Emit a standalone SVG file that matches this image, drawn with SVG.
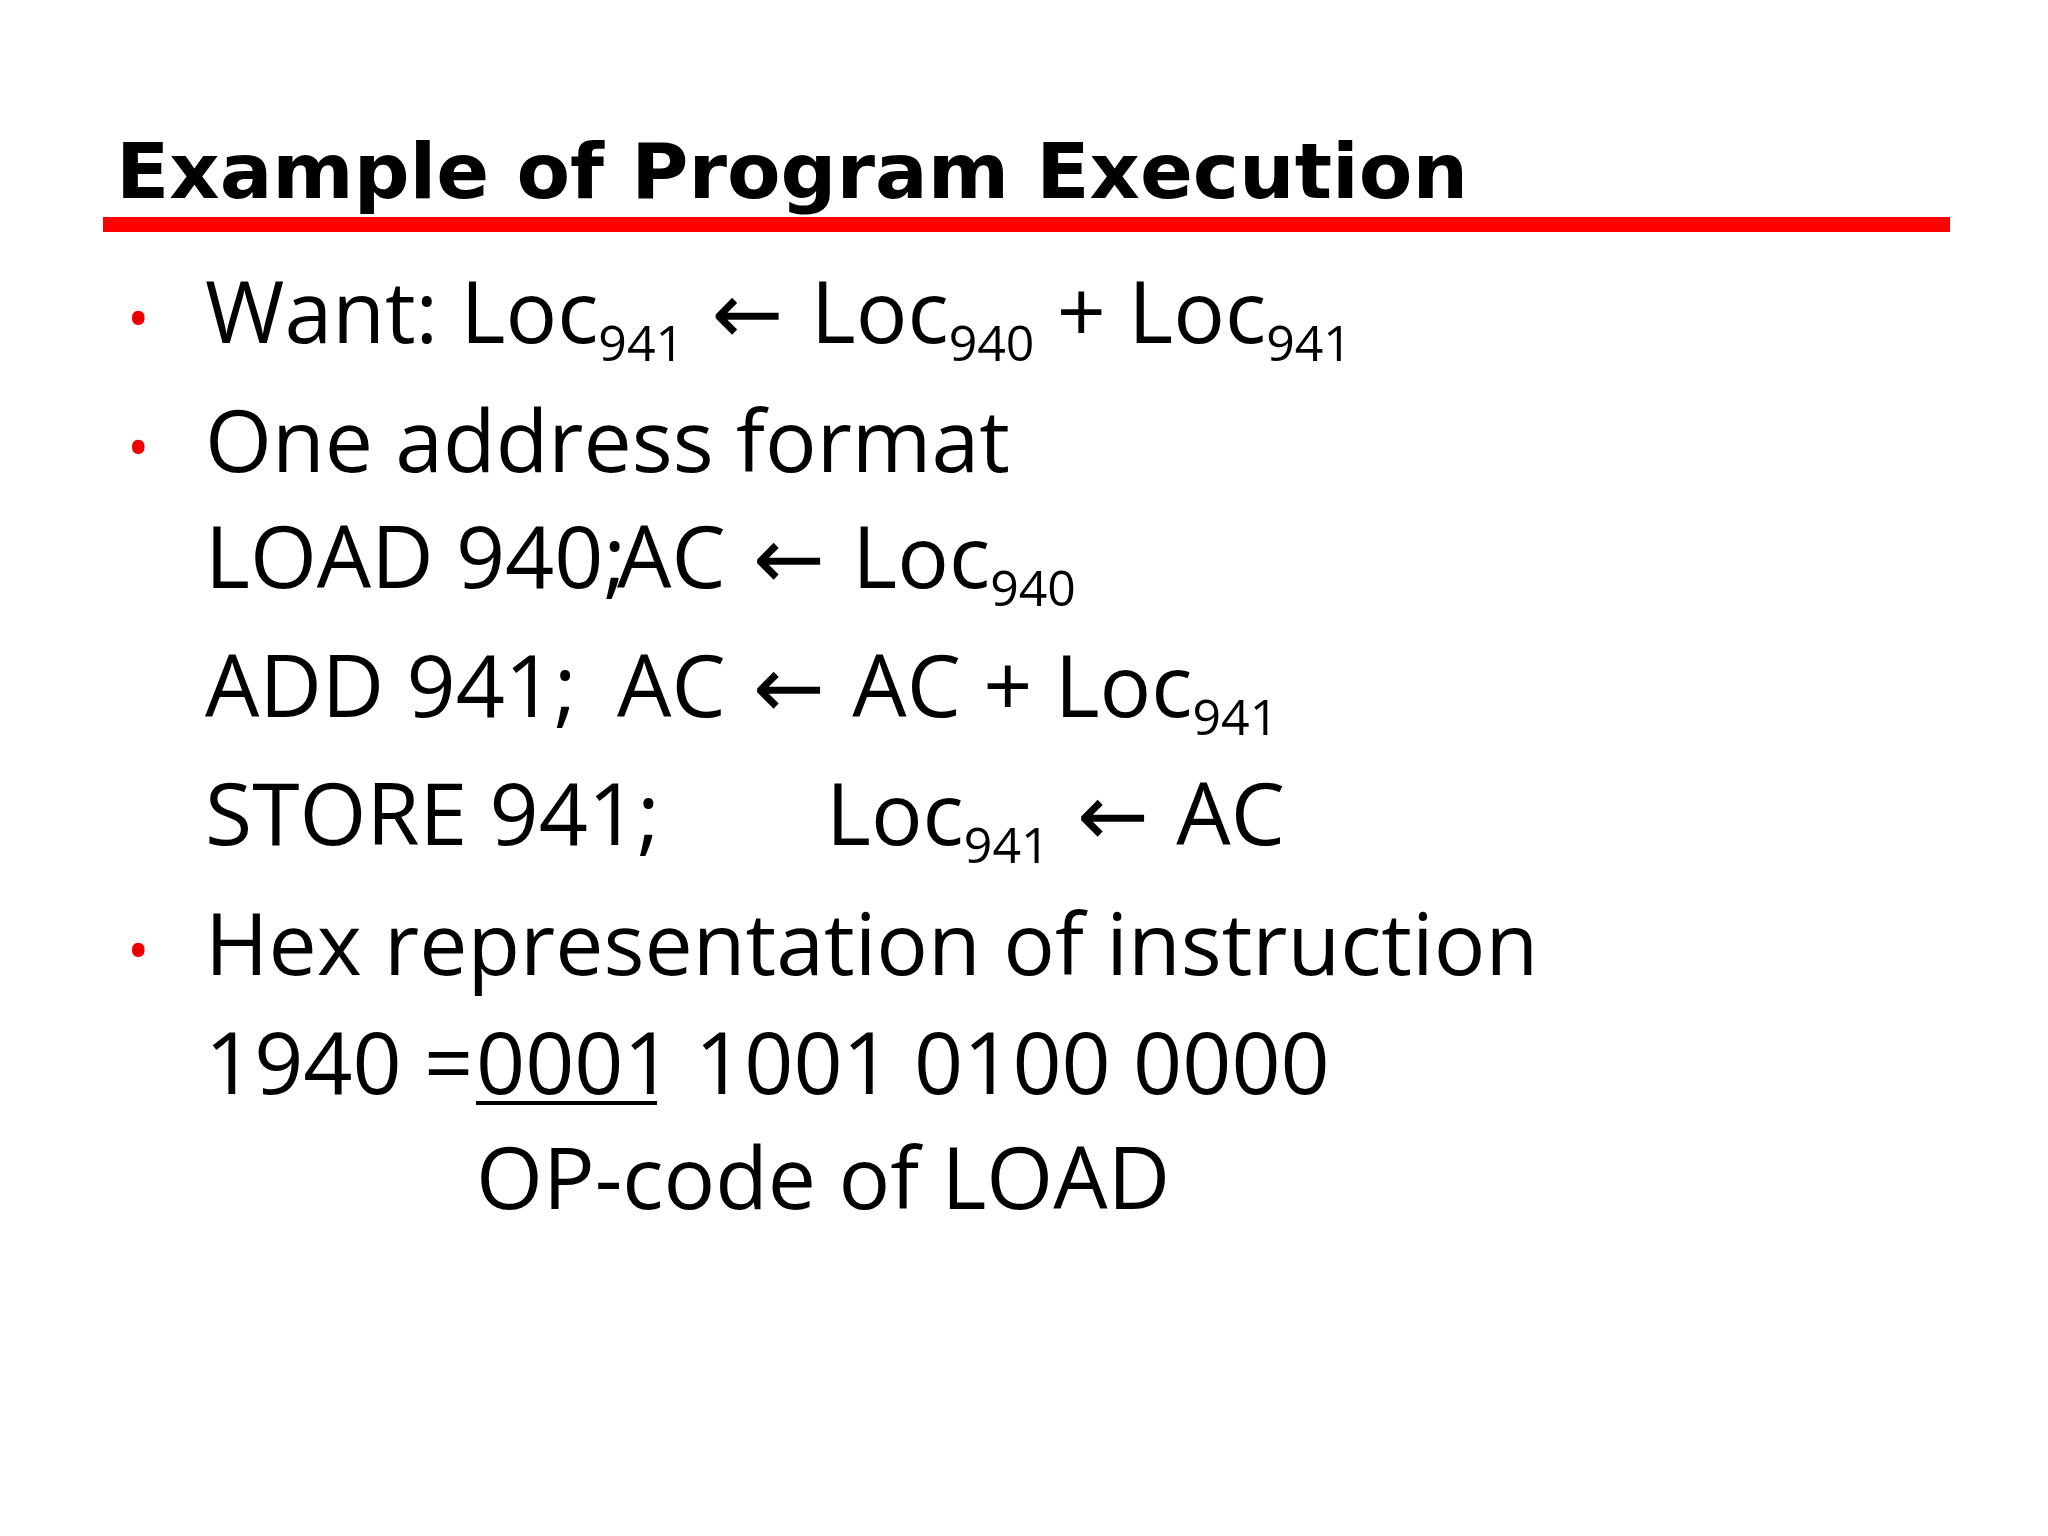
<svg xmlns="http://www.w3.org/2000/svg" width="2048" height="1536" viewBox="0 0 2048 1536">
<style>
.t{font-family:"Open Sans","Noto Sans",sans-serif;font-size:86px;fill:#000}
.s{font-size:50px}
.b{font-family:"Open Sans",sans-serif;font-size:60px;fill:#e00}
.a{font-family:"DejaVu Sans",sans-serif}
</style>
<rect width="2048" height="1536" fill="#fff"/>
<g id="title">
<text x="116" y="198" font-family="'DejaVu Sans',sans-serif" font-weight="bold" font-size="76" textLength="1352" lengthAdjust="spacingAndGlyphs">Example of Program Execution</text>
<rect x="103" y="217" width="1847" height="15" fill="#f00"/>
</g>
<g id="body">
<text class="b" x="127" y="340">•</text>
<text class="b" x="127" y="469">•</text>
<text class="b" x="127" y="972">•</text>
<text class="t" x="205" y="343">Want: Loc<tspan class="s" dy="18">941</tspan><tspan dy="-18" class="a"> ← </tspan>Loc<tspan class="s" dy="18">940</tspan><tspan dy="-18"> + Loc</tspan><tspan class="s" dy="18">941</tspan></text>
<text class="t" x="205" y="472">One address format</text>
<text class="t" x="205" y="588">LOAD 940;</text>
<text class="t" x="617" y="588">AC<tspan class="a"> ← </tspan>Loc<tspan class="s" dy="18">940</tspan></text>
<text class="t" x="205" y="717">ADD 941;</text>
<text class="t" x="617" y="717">AC<tspan class="a"> ← </tspan>AC + Loc<tspan class="s" dy="18">941</tspan></text>
<text class="t" x="205" y="845">STORE 941;</text>
<text class="t" x="826" y="845">Loc<tspan class="s" dy="18">941</tspan><tspan dy="-18" class="a"> ← </tspan>AC</text>
<text class="t" x="205" y="975">Hex representation of instruction</text>
<text class="t" x="205" y="1094">1940 = </text>
<text class="t" x="476" y="1094">0001 1001 0100 0000</text>
<rect x="476" y="1101" width="181" height="4" fill="#000"/>
<text class="t" x="476" y="1209">OP-code of LOAD</text>
</g>
</svg>
